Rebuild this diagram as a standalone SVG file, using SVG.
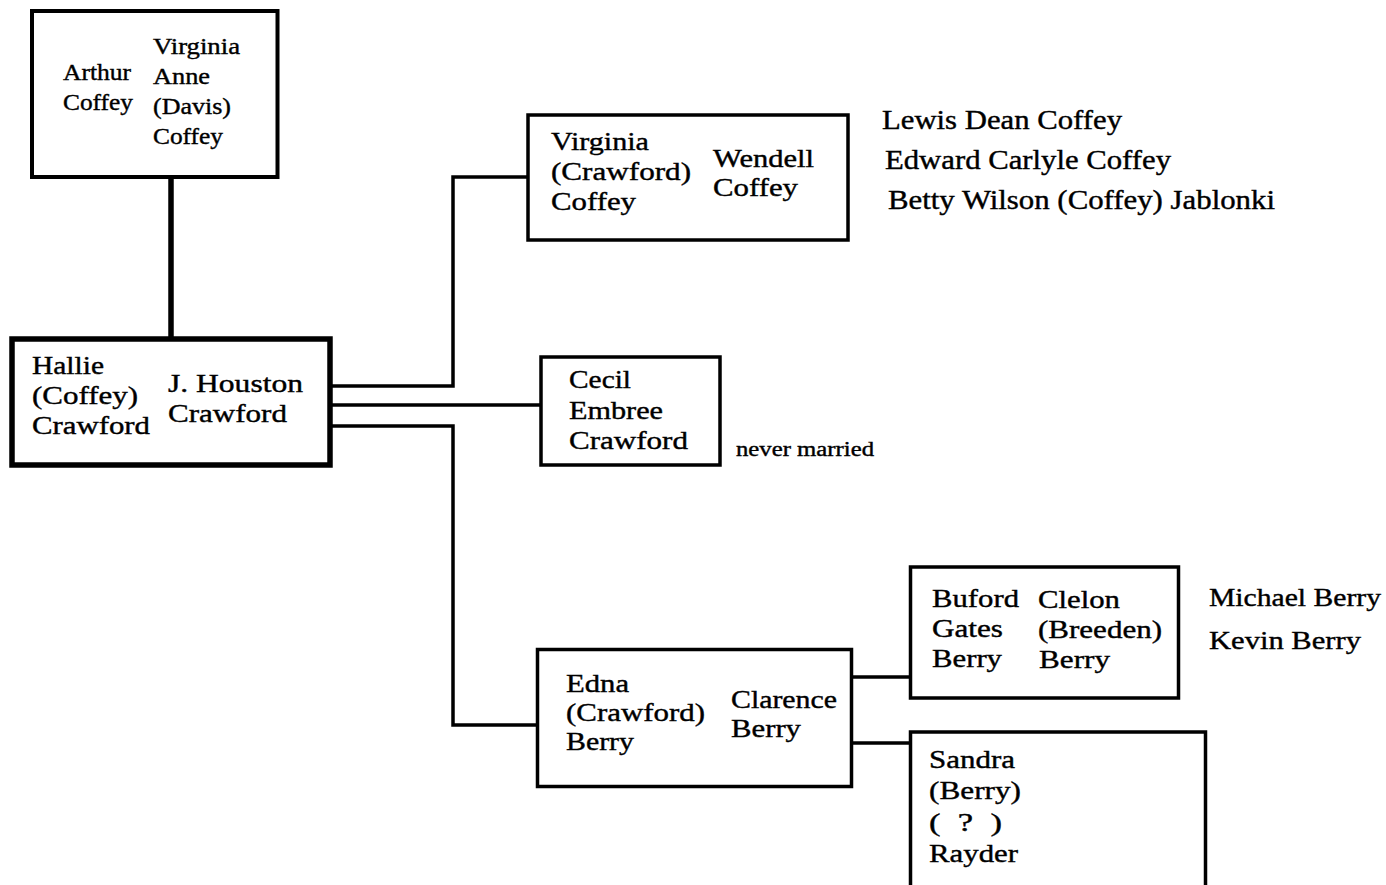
<svg xmlns="http://www.w3.org/2000/svg" width="1386" height="885" viewBox="0 0 1386 885">
<style>
.bx{fill:#fff;stroke:#000;stroke-width:3.5}
.t{font-family:"Liberation Serif","Times New Roman",serif;fill:#000;stroke:#000;stroke-width:0.4}
.s24{font-size:24px}
.s26{font-size:26px}
.s27{font-size:27px}
.s20{font-size:20px}
.cn{fill:none;stroke:#000;stroke-width:3.5}
</style>
<rect width="1386" height="885" fill="#fff"/>
<g id="connectors">
<path class="cn" d="M171,177 V338" style="stroke-width:5.5"/>
<path class="cn" d="M331,386 H453 V177 H528"/>
<path class="cn" d="M331,405 H541"/>
<path class="cn" d="M331,426 H453 V725 H537"/>
<path class="cn" d="M852,677 H910"/>
<path class="cn" d="M852,743 H910"/>
</g>
<g id="node-arthur-virginia">
<rect class="bx" x="32" y="11" width="245.5" height="166" style="stroke-width:4"/>
<text class="t s24" x="63" y="80" textLength="68" lengthAdjust="spacingAndGlyphs">Arthur</text>
<text class="t s24" x="63" y="110" textLength="70" lengthAdjust="spacingAndGlyphs">Coffey</text>
<text class="t s24" x="153" y="54" textLength="87" lengthAdjust="spacingAndGlyphs">Virginia</text>
<text class="t s24" x="153" y="84" textLength="57" lengthAdjust="spacingAndGlyphs">Anne</text>
<text class="t s24" x="153" y="114" textLength="78" lengthAdjust="spacingAndGlyphs">(Davis)</text>
<text class="t s24" x="153" y="144" textLength="70" lengthAdjust="spacingAndGlyphs">Coffey</text>
</g>
<g id="node-hallie-houston">
<rect class="bx" x="12" y="339" width="318" height="126" style="stroke-width:5.5"/>
<text class="t s26" x="32" y="374" textLength="72" lengthAdjust="spacingAndGlyphs">Hallie</text>
<text class="t s26" x="32" y="404" textLength="106" lengthAdjust="spacingAndGlyphs">(Coffey)</text>
<text class="t s26" x="32" y="434" textLength="118" lengthAdjust="spacingAndGlyphs">Crawford</text>
<text class="t s26" x="168" y="392" textLength="135" lengthAdjust="spacingAndGlyphs">J. Houston</text>
<text class="t s26" x="168" y="422" textLength="119" lengthAdjust="spacingAndGlyphs">Crawford</text>
</g>
<g id="node-virginia-wendell">
<rect class="bx" x="528" y="115" width="320" height="125"/>
<text class="t s26" x="551" y="150" textLength="98" lengthAdjust="spacingAndGlyphs">Virginia</text>
<text class="t s26" x="551" y="180" textLength="140" lengthAdjust="spacingAndGlyphs">(Crawford)</text>
<text class="t s26" x="551" y="210" textLength="85" lengthAdjust="spacingAndGlyphs">Coffey</text>
<text class="t s26" x="713" y="167" textLength="101" lengthAdjust="spacingAndGlyphs">Wendell</text>
<text class="t s26" x="713" y="196" textLength="85" lengthAdjust="spacingAndGlyphs">Coffey</text>
</g>
<g id="children-coffey">
<text class="t s27" x="882" y="129" textLength="240" lengthAdjust="spacingAndGlyphs">Lewis Dean Coffey</text>
<text class="t s27" x="885" y="169" textLength="286" lengthAdjust="spacingAndGlyphs">Edward Carlyle Coffey</text>
<text class="t s27" x="888" y="209" textLength="387" lengthAdjust="spacingAndGlyphs">Betty Wilson (Coffey) Jablonki</text>
</g>
<g id="node-cecil">
<rect class="bx" x="541" y="357" width="179" height="108"/>
<text class="t s26" x="569" y="388" textLength="62" lengthAdjust="spacingAndGlyphs">Cecil</text>
<text class="t s26" x="569" y="419" textLength="94" lengthAdjust="spacingAndGlyphs">Embree</text>
<text class="t s26" x="569" y="449" textLength="119" lengthAdjust="spacingAndGlyphs">Crawford</text>
<text class="t s20" x="736" y="456" textLength="138" lengthAdjust="spacingAndGlyphs">never married</text>
</g>
<g id="node-edna-clarence">
<rect class="bx" x="537.5" y="649.5" width="314" height="137"/>
<text class="t s26" x="566" y="692" textLength="63" lengthAdjust="spacingAndGlyphs">Edna</text>
<text class="t s26" x="566" y="721" textLength="139" lengthAdjust="spacingAndGlyphs">(Crawford)</text>
<text class="t s26" x="566" y="750" textLength="68" lengthAdjust="spacingAndGlyphs">Berry</text>
<text class="t s26" x="731" y="708" textLength="106" lengthAdjust="spacingAndGlyphs">Clarence</text>
<text class="t s26" x="731" y="737" textLength="70" lengthAdjust="spacingAndGlyphs">Berry</text>
</g>
<g id="node-buford-clelon">
<rect class="bx" x="910.5" y="567" width="268" height="131"/>
<text class="t s26" x="932" y="607" textLength="87" lengthAdjust="spacingAndGlyphs">Buford</text>
<text class="t s26" x="932" y="637" textLength="71" lengthAdjust="spacingAndGlyphs">Gates</text>
<text class="t s26" x="932" y="667" textLength="70" lengthAdjust="spacingAndGlyphs">Berry</text>
<text class="t s26" x="1038" y="608" textLength="82" lengthAdjust="spacingAndGlyphs">Clelon</text>
<text class="t s26" x="1038" y="638" textLength="124" lengthAdjust="spacingAndGlyphs">(Breeden)</text>
<text class="t s26" x="1039" y="668" textLength="71" lengthAdjust="spacingAndGlyphs">Berry</text>
</g>
<g id="children-berry">
<text class="t s26" x="1209" y="606" textLength="172" lengthAdjust="spacingAndGlyphs">Michael Berry</text>
<text class="t s26" x="1209" y="649" textLength="152" lengthAdjust="spacingAndGlyphs">Kevin Berry</text>
</g>
<g id="node-sandra">
<rect class="bx" x="910.5" y="732" width="295" height="170"/>
<text class="t s26" x="929" y="768" textLength="86" lengthAdjust="spacingAndGlyphs">Sandra</text>
<text class="t s26" x="929" y="799" xml:space="preserve" textLength="92" lengthAdjust="spacingAndGlyphs">(Berry)</text>
<text class="t s26" x="929" y="831" xml:space="preserve" textLength="73" lengthAdjust="spacingAndGlyphs">(  ?  )</text>
<text class="t s26" x="929" y="862" textLength="89" lengthAdjust="spacingAndGlyphs">Rayder</text>
</g>
</svg>
